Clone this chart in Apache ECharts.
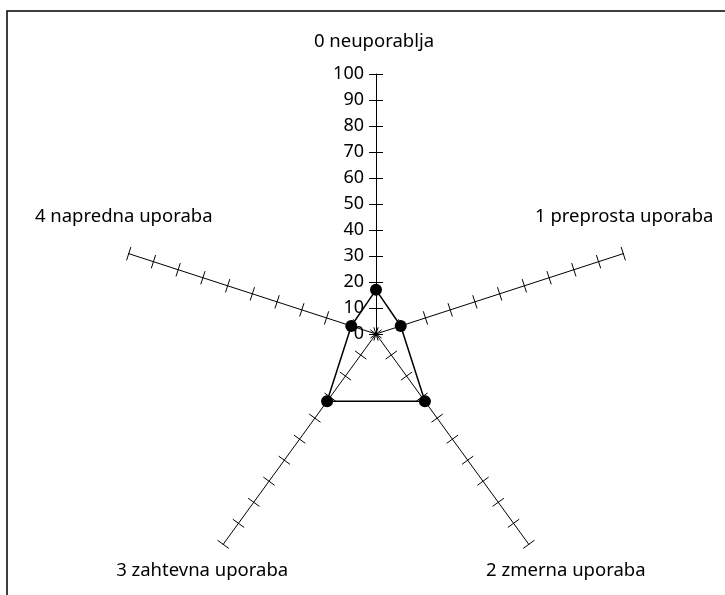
<!DOCTYPE html>
<html>
<head>
<meta charset="utf-8">
<script src="https://cdn.jsdelivr.net/npm/echarts@6/dist/echarts.min.js"></script>
<style>
  html, body { margin: 0; padding: 0; background: #fff; }
  #chart { width: 725px; height: 595px; }
</style>
</head>
<body>
<div id="chart"></div>
<script>
// Usage levels, listed clockwise starting at the top axis
const categories = ['0 neuporablja', '1 preprosta uporaba', '2 zmerna uporaba', '3 zahtevna uporaba', '4 napredna uporaba'];
const values = [17, 10, 32, 32, 10];
const axisMin = 0;
const axisMax = 100;
const axisStep = 10;

// Layout
const CX = 376, CY = 334, R = 260;
const TICK_HALF = 7;
const FONT = '"Noto Sans", "DejaVu Sans", sans-serif';
// Offset of each axis title from the end of its axis
const nameOffsets = [[-2, -32], [1, -37], [37, 26], [-21, 26], [-5, -37]];

// ECharts places radar indicators counter-clockwise, so walk the list backwards after the first one
const order = [0].concat(categories.slice(1).map((_, i) => categories.length - 1 - i));

function makeRadar(center, opts) {
  return {
    center: center,
    radius: R,
    startAngle: 90,
    splitNumber: (axisMax - axisMin) / axisStep,
    shape: 'polygon',
    indicator: order.map((k, i) => ({
      name: categories[k],
      min: axisMin,
      max: axisMax,
      axisLabel: { show: !!opts.labelOn && i === 0 },
      axisTick: { show: opts.tickOn === k }
    })),
    axisName: { show: false },
    splitLine: { show: false },
    splitArea: { show: false },
    axisLine: { show: !!opts.line, lineStyle: { color: '#000', width: 1 } },
    axisTick: { length: 2 * TICK_HALF, lineStyle: { color: '#000', width: 1 } },
    axisLabel: {
      color: '#000',
      fontFamily: FONT,
      fontSize: 18,
      margin: 12
    }
  };
}

// Main radar: axis lines and the value labels on the top axis
const radars = [makeRadar([CX, CY], { line: true, labelOn: true, tickOn: -1 })];

// Ticks cross their axis: ECharts draws radar ticks on one side only, so each axis
// gets a helper radar nudged half a tick to the other side, showing that axis' ticks only
categories.forEach((_, k) => {
  const theta = (90 - 72 * k) * Math.PI / 180;
  const dx = Math.cos(theta), dy = -Math.sin(theta);
  const nx = dy, ny = -dx; // side the ticks are drawn on
  radars.push(makeRadar([CX - TICK_HALF * nx, CY - TICK_HALF * ny], { tickOn: k }));
});

// Axis titles positioned from the axis end points
const titleGraphics = categories.map((name, k) => {
  const theta = (90 - 72 * k) * Math.PI / 180;
  const ex = CX + R * Math.cos(theta);
  const ey = CY - R * Math.sin(theta);
  return {
    type: 'text',
    x: ex + nameOffsets[k][0],
    y: ey + nameOffsets[k][1],
    style: {
      text: name,
      fill: '#000',
      font: '18.5px ' + FONT,
      textAlign: 'center',
      textVerticalAlign: 'middle'
    }
  };
});

const chart = echarts.init(document.getElementById('chart'), null, { renderer: 'canvas' });
chart.setOption({
  backgroundColor: '#fff',
  animation: false,
  radar: radars,
  graphic: [
    {
      type: 'rect',
      shape: { x: 7, y: 11, width: 760, height: 640 },
      style: { fill: 'none', stroke: '#000', lineWidth: 1.5 },
      z: -1
    }
  ].concat(titleGraphics),
  series: [{
    type: 'radar',
    radarIndex: 0,
    symbol: 'circle',
    symbolSize: 12,
    lineStyle: { color: '#000', width: 1.5 },
    itemStyle: { color: '#000' },
    data: [{ value: order.map(k => values[k]) }]
  }]
});
</script>
</body>
</html>
